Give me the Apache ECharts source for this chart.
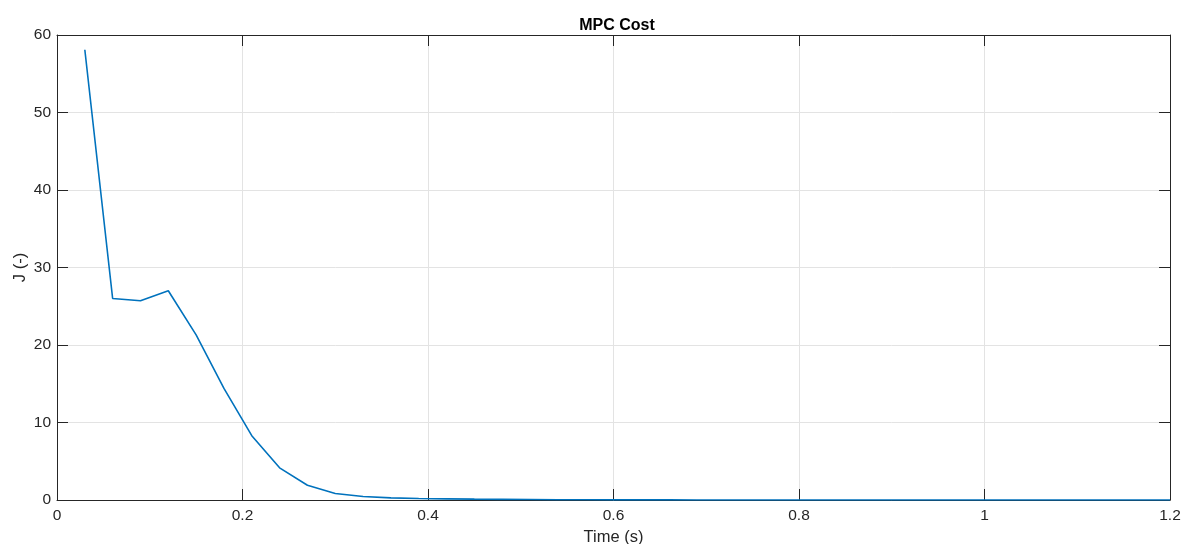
<!DOCTYPE html>
<html>
<head>
<meta charset="utf-8">
<script src="https://cdn.jsdelivr.net/npm/echarts@6/dist/echarts.min.js"></script>
<style>
  html, body { margin: 0; padding: 0; background: #fff; }
  #chart { width: 1182px; height: 544px; }
</style>
</head>
<body>
<div id="chart"></div>
<script>
// sample times (s)
var times = [0.03, 0.06, 0.09, 0.12, 0.15, 0.18, 0.21, 0.24, 0.27, 0.30,
             0.33, 0.36, 0.39, 0.42, 0.45, 0.48, 0.51, 0.54, 0.57, 0.60,
             0.63, 0.66, 0.69, 0.72, 0.75, 0.78, 0.81, 0.84, 0.87, 0.90,
             0.93, 0.96, 0.99, 1.02, 1.05, 1.08, 1.11, 1.14, 1.17, 1.20];
// MPC cost J
var cost = [58.1, 26.0, 25.7, 27.0, 21.3, 14.4, 8.3, 4.15, 1.9, 0.84,
            0.45, 0.28, 0.2, 0.15, 0.11, 0.08, 0.06, 0.04, 0.03, 0.02,
            0.015, 0.01, 0.008, 0.006, 0.005, 0.004, 0.003, 0.002, 0.002, 0.001,
            0.001, 0.001, 0, 0, 0, 0, 0, 0, 0, 0];

var data = [];
for (var i = 0; i < times.length; i++) {
    data.push([times[i], cost[i]]);
}

var axisColor = '#262626';
var font = 'Liberation Sans, Arial, sans-serif';

function mkAxis(pos, labels, min, max, step) {
    return {
        type: 'value', position: pos, min: min, max: max, interval: step,
        axisLine: { show: true, onZero: false, lineStyle: { color: axisColor, width: 1 } },
        axisTick: { show: true, inside: true, length: 11, lineStyle: { color: axisColor } },
        axisLabel: { show: labels, color: axisColor, fontSize: 15.5, fontFamily: font, margin: 8 },
        splitLine: { show: labels, lineStyle: { color: '#e3e3e3' } }
    };
}

var chart = echarts.init(document.getElementById('chart'));
var xa = mkAxis('bottom', true, 0, 1.2, 0.2);
xa.name = 'Time (s)';
xa.nameLocation = 'middle';
xa.nameGap = 27;
xa.nameTextStyle = { color: axisColor, fontSize: 16.5, fontFamily: font };
var ya = mkAxis('left', true, 0, 60, 10);
ya.axisLabel.margin = 6;
ya.name = 'J (-)';
ya.nameLocation = 'middle';
ya.nameGap = 28;
ya.nameMoveOverlap = false;
ya.nameTextStyle = { color: axisColor, fontSize: 16.5, fontFamily: font };

chart.setOption({
    animation: false,
    title: {
        text: 'MPC Cost', left: 612, top: 13, textAlign: 'center',
        textStyle: { color: '#000', fontSize: 16, fontWeight: 'bold', fontFamily: font }
    },
    grid: { left: 57, right: 12, top: 35, bottom: 44, outerBoundsMode: 'none' },
    xAxis: [xa, mkAxis('top', false, 0, 1.2, 0.2)],
    yAxis: [ya, mkAxis('right', false, 0, 60, 10)],
    series: [{
        type: 'line',
        data: data,
        showSymbol: false,
        lineStyle: { color: '#0072BD', width: 1.6 },
        itemStyle: { color: '#0072BD' }
    }]
});
</script>
</body>
</html>
